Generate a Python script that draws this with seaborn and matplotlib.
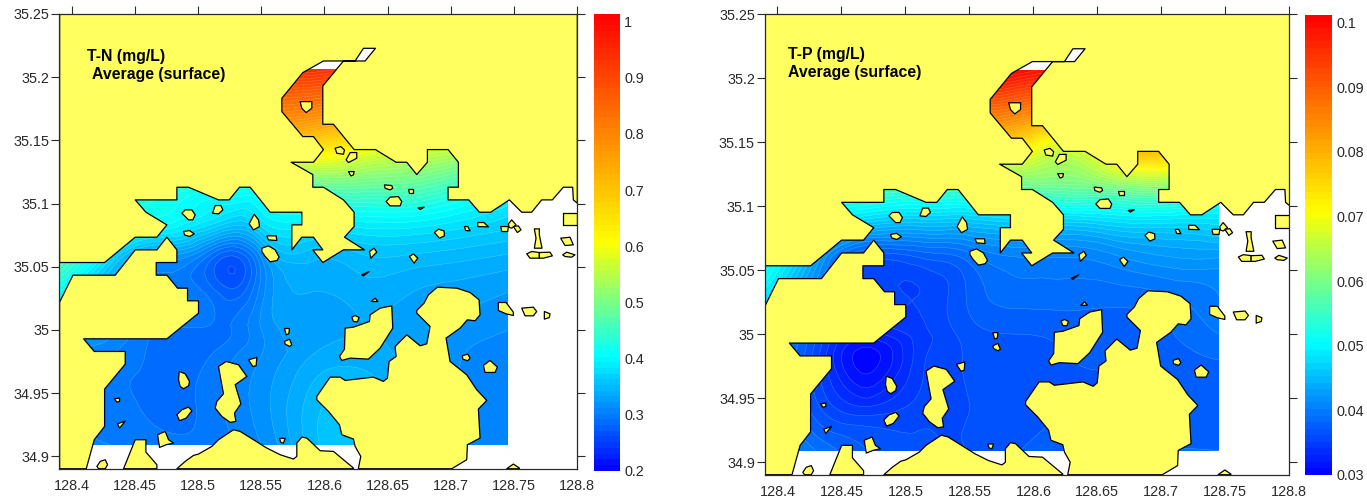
import numpy as np
import matplotlib
matplotlib.use("Agg")
import matplotlib.pyplot as plt
import matplotlib.tri as mtri
from matplotlib.colors import LinearSegmentedColormap
from matplotlib.patches import Polygon
import seaborn as sns

# ---- sampled fields (mg/L) ----
LONS = [128.39, 128.43, 128.47, 128.51, 128.53, 128.55, 128.59, 128.63, 128.67, 128.71, 128.745]
LATS = [34.909, 34.94, 34.98, 35.00, 35.03, 35.06, 35.09, 35.12, 35.15, 35.18, 35.206]

TN = [
    [.300, .300, .295, .295, .302, .310, .345, .358, .330, .310, .300],
    [.300, .295, .287, .295, .305, .315, .345, .352, .330, .310, .305],
    [.310, .300, .287, .290, .300, .310, .330, .335, .325, .310, .305],
    [.330, .315, .290, .288, .292, .310, .325, .330, .325, .315, .310],
    [.400, .330, .300, .285, .274, .305, .330, .335, .330, .325, .320],
    [.470, .380, .325, .290, .274, .315, .345, .350, .350, .345, .340],
    [.470, .440, .410, .385, .370, .385, .395, .400, .400, .385, .370],
    [.500, .500, .460, .450, .450, .460, .500, .500, .490, .460, .430],
    [.700, .700, .700, .700, .700, .700, .680, .630, .600, .580, .560],
    [.830, .830, .830, .830, .830, .830, .820, .790, .750, .700, .650],
    [.940, .940, .940, .940, .940, .940, .930, .900, .850, .800, .750],
]
TP = [
    [.0410, .0390, .0370, .0360, .0360, .0360, .0370, .0380, .0380, .0380, .0380],
    [.0410, .0365, .0345, .0355, .0358, .0360, .0365, .0370, .0370, .0375, .0375],
    [.0410, .0355, .0305, .0345, .0355, .0362, .0368, .0370, .0370, .0375, .0380],
    [.0420, .0365, .0328, .0345, .0355, .0365, .0370, .0372, .0372, .0380, .0390],
    [.0480, .0400, .0360, .0350, .0358, .0372, .0385, .0385, .0385, .0390, .0400],
    [.0520, .0430, .0365, .0370, .0375, .0385, .0400, .0400, .0410, .0420, .0420],
    [.0520, .0500, .0470, .0460, .0460, .0460, .0470, .0470, .0480, .0480, .0480],
    [.0600, .0600, .0580, .0580, .0580, .0580, .0600, .0600, .0630, .0630, .0560],
    [.0730, .0750, .0750, .0750, .0745, .0740, .0740, .0680, .0790, .0790, .0680],
    [.0900, .0900, .0900, .0900, .0900, .0900, .0880, .0850, .0850, .0850, .0800],
    [.1000, .1000, .1000, .1000, .1000, .1000, .0990, .0950, .0900, .0900, .0850],
]
TN_RANGE = (0.2, 1.0, 0.01)
TP_RANGE = (0.03, 0.1, 0.001)
TN_TICKS = [0.2, 0.3, 0.4, 0.5, 0.6, 0.7, 0.8, 0.9, 1.0]
TP_TICKS = [0.03, 0.04, 0.05, 0.06, 0.07, 0.08, 0.09, 0.1]
TN_TITLE = ["T-N (mg/L)", "Average (surface)"]
TP_TITLE = ["T-P (mg/L)", "Average (surface)"]
X_TICKS = [128.4, 128.45, 128.5, 128.55, 128.6, 128.65, 128.7, 128.75, 128.8]
Y_TICKS = [34.9, 34.95, 35.0, 35.05, 35.1, 35.15, 35.2, 35.25]

# ---- coastline, quantised coordinates (see unquantise) ----
MAINLAND = [(178, 42), (1732, 42), (1732, 610), (1720, 600), (1718, 562), (1690, 562), (1657, 600), (1625, 600),
            (1595, 637), (1565, 637), (1528, 600), (1472, 637), (1438, 637), (1406, 600), (1344, 600), (1344, 562),
            (1375, 562), (1375, 487), (1344, 449), (1282, 449), (1282, 487), (1250, 524), (1220, 487), (1188, 487),
            (1126, 449), (1062, 449), (1000, 373), (968, 373), (968, 258), (1030, 183), (1065, 183), (1095, 183),
            (1126, 145), (1090, 145), (1065, 183), (1030, 183), (970, 183), (908, 218), (845, 295), (845, 335),
            (908, 410), (940, 410), (970, 449), (940, 487), (873, 487), (938, 524), (938, 562), (970, 562),
            (1030, 600), (1062, 637), (1062, 680), (1033, 712), (1093, 750), (1030, 750), (968, 788), (938, 750),
            (968, 750), (940, 712), (905, 712), (875, 750), (875, 675), (905, 675), (905, 637), (810, 637),
            (750, 562), (718, 562), (687, 600), (655, 600), (565, 562), (530, 562), (530, 600), (405, 600),
            (437, 637), (500, 675), (470, 712), (405, 712), (313, 788), (178, 788)]
WEST_LAND = [(178, 907), (218, 826), (345, 826), (405, 750), (470, 750), (500, 712), (530, 750), (530, 788),
             (468, 788), (468, 826), (500, 826), (532, 865), (562, 865), (562, 903), (595, 903), (595, 940),
             (500, 1017), (250, 1017), (282, 1055), (375, 1055), (375, 1093), (313, 1168), (313, 1280),
             (282, 1320), (258, 1407), (178, 1407)]
SOUTH_BAR = [(370, 1407), (405, 1320), (437, 1320), (437, 1357), (470, 1395), (470, 1407)]
SOUTH_RIDGE = [(530, 1407), (555, 1385), (580, 1367), (595, 1363), (635, 1340), (655, 1320), (700, 1290),
               (720, 1295), (800, 1345), (840, 1365), (880, 1378), (890, 1370), (890, 1330), (905, 1312),
               (920, 1315), (960, 1353), (1000, 1355), (1060, 1405), (1060, 1407)]
BIG_ISLAND = [(1075, 1405), (1082, 1370), (1065, 1340), (1060, 1318), (1025, 1305), (1018, 1275), (985, 1235),
              (950, 1200), (950, 1190), (990, 1132), (1020, 1132), (1035, 1142), (1120, 1132), (1150, 1145),
              (1162, 1135), (1167, 1085), (1188, 1070), (1185, 1040), (1220, 1005), (1260, 1038), (1280, 1032),
              (1290, 980), (1250, 940), (1250, 932), (1272, 910), (1285, 885), (1312, 862), (1370, 865),
              (1410, 878), (1437, 900), (1440, 945), (1425, 963), (1402, 960), (1380, 985), (1338, 1015),
              (1350, 1085), (1400, 1125), (1430, 1170), (1460, 1202), (1435, 1228), (1440, 1315), (1402, 1335),
              (1400, 1380), (1355, 1407), (1075, 1407)]
MID_ISLAND = [(1035, 985), (1060, 982), (1108, 965), (1110, 945), (1140, 925), (1175, 918), (1178, 985),
              (1140, 1045), (1105, 1078), (1050, 1075), (1025, 1082), (1018, 1070), (1033, 1048)]
LONG_ISLAND = [(655, 1100), (678, 1085), (715, 1095), (740, 1130), (705, 1155), (722, 1212), (703, 1240),
               (707, 1265), (690, 1268), (665, 1250), (645, 1225), (650, 1205), (670, 1182), (663, 1145)]
RECT_ISLAND = [(1688, 638), (1732, 638), (1732, 676), (1688, 676)]
ISLETS = [
    [(535, 1140), (537, 1115), (555, 1122), (568, 1145), (565, 1158), (550, 1167), (540, 1160)],
    [(530, 1245), (545, 1230), (565, 1222), (575, 1233), (558, 1255), (538, 1263)],
    [(342, 1197), (358, 1195), (358, 1205), (350, 1207)],
    [(352, 1272), (375, 1264), (358, 1285)],
    [(472, 1305), (495, 1295), (505, 1320), (520, 1330), (498, 1335), (478, 1343)],
    [(745, 1080), (770, 1073), (768, 1098), (758, 1100)],
    [(853, 986), (868, 986), (866, 1002), (858, 1005)],
    [(853, 1025), (868, 1018), (875, 1035), (868, 1040), (855, 1033)],
    [(838, 1316), (855, 1316), (850, 1330), (842, 1328)],
    [(785, 745), (805, 738), (825, 750), (837, 772), (830, 782), (810, 786), (795, 770), (785, 755)],
    [(545, 640), (555, 630), (575, 630), (585, 645), (578, 660), (565, 660)],
    [(637, 640), (645, 617), (662, 617), (668, 630), (655, 642)],
    [(747, 672), (762, 643), (775, 660), (778, 680), (760, 690)],
    [(550, 695), (568, 692), (582, 702), (568, 710), (553, 705)],
    [(800, 708), (828, 708), (830, 722), (805, 720)],
    [(900, 305), (935, 305), (935, 325), (918, 338), (905, 325)],
    [(1005, 445), (1022, 440), (1033, 450), (1030, 463), (1010, 460)],
    [(1038, 480), (1050, 458), (1070, 458), (1070, 475), (1045, 488)],
    [(1045, 515), (1062, 515), (1060, 525), (1052, 528)],
    [(1153, 555), (1175, 557), (1178, 565), (1170, 570), (1155, 565)],
    [(1223, 566), (1240, 566), (1240, 578), (1227, 578)],
    [(1158, 605), (1170, 592), (1195, 590), (1205, 605), (1200, 618), (1170, 618)],
    [(1254, 624), (1272, 622), (1260, 629)],
    [(1303, 698), (1315, 688), (1332, 693), (1333, 708), (1318, 715)],
    [(1393, 680), (1403, 680), (1410, 693), (1397, 692)],
    [(1433, 668), (1452, 668), (1465, 681), (1433, 680)],
    [(1502, 680), (1525, 680), (1523, 695), (1505, 695)],
    [(1525, 672), (1535, 660), (1548, 675), (1535, 685), (1527, 682)],
    [(1540, 680), (1555, 678), (1563, 690), (1552, 698)],
    [(1603, 687), (1618, 687), (1618, 705), (1626, 745), (1603, 745), (1608, 715)],
    [(1580, 762), (1595, 755), (1618, 758), (1618, 775), (1590, 775)],
    [(1618, 758), (1650, 757), (1657, 768), (1630, 775), (1618, 775)],
    [(1682, 715), (1710, 712), (1720, 735), (1695, 737)],
    [(1688, 765), (1700, 757), (1725, 765), (1715, 772), (1695, 770)],
    [(1108, 755), (1122, 745), (1130, 757), (1112, 775)],
    [(1228, 770), (1240, 762), (1253, 775), (1242, 790)],
    [(1085, 825), (1107, 815), (1090, 828)],
    [(1113, 905), (1125, 895), (1133, 905)],
    [(1055, 952), (1065, 947), (1077, 953), (1072, 966), (1060, 965)],
    [(1495, 908), (1518, 908), (1540, 937), (1540, 947), (1518, 942), (1495, 932)],
    [(1565, 925), (1600, 922), (1610, 935), (1600, 948), (1575, 948)],
    [(1633, 935), (1650, 942), (1648, 953), (1633, 958)],
    [(1387, 1068), (1403, 1063), (1410, 1075), (1403, 1083), (1388, 1078)],
    [(1450, 1097), (1470, 1082), (1492, 1102), (1485, 1118), (1455, 1118)],
    [(1520, 1407), (1540, 1393), (1558, 1405), (1558, 1407)],
    [(290, 1400), (300, 1385), (315, 1380), (322, 1395), (315, 1407), (295, 1407)],
]


def unquantise(points):
    q = np.asarray(points, dtype=float)
    return np.column_stack([128.4 + (q[:, 0] - 215) / 189.5 * 0.05,
                            35.25 - (q[:, 1] - 42) / 189.7 * 0.05])


sns.set_style("white")
plt.rcParams["font.family"] = ["Liberation Sans", "DejaVu Sans"]
W, H = 1367, 500
INK = "#2a2a2a"
fig = plt.figure(figsize=(W / 100, H / 100), dpi=100, facecolor="white")


def px_axes(x0, x1, y0, y1):
    return fig.add_axes([x0 / W, 1 - y1 / H, (x1 - x0) / W, (y1 - y0) / H])


def fmt(v):
    return f"{v:.3f}".rstrip("0").rstrip(".")


def cmap_for(lo, hi, cyan, yellow):
    n = lambda v: (v - lo) / (hi - lo)
    return LinearSegmentedColormap.from_list("wq", [
        (0, "#0000ff"), (n(cyan), "#00ffff"), (n(yellow), "#ffff00"),
        (n((yellow + hi) / 2), "#ff8000"), (1, "#ff0000")], N=256)


def draw_map(rect, field, rng, cyan, yellow, title, title_xy):
    ax = px_axes(*rect)
    lo, hi, step = rng
    levels = np.arange(lo, hi + step / 2, step)
    cmap = cmap_for(lo, hi, cyan, yellow)
    lon, lat = np.meshgrid(LONS, LATS)
    tri = mtri.Triangulation(lon.ravel(), lat.ravel())
    fine, z = mtri.UniformTriRefiner(tri).refine_field(np.asarray(field).ravel(), subdiv=3)
    ax.set_facecolor("white")
    ax.tricontourf(fine, z, levels=levels, cmap=cmap, vmin=lo, vmax=hi, extend="both", zorder=1)
    ax.tricontour(fine, z, levels=levels, colors="white", linewidths=0.3, alpha=0.3, zorder=2)
    for shape in [MAINLAND, WEST_LAND, SOUTH_BAR, SOUTH_RIDGE, BIG_ISLAND, MID_ISLAND, LONG_ISLAND, RECT_ISLAND] + ISLETS:
        ax.add_patch(Polygon(unquantise(shape), closed=True, facecolor="#ffff60",
                             edgecolor="black", linewidth=0.9, joinstyle="round", zorder=3))
    ax.set_xlim(128.39, 128.8)
    ax.set_ylim(34.89, 35.25)
    ax.set_xticks(X_TICKS, [fmt(v) for v in X_TICKS])
    ax.set_yticks(Y_TICKS, [fmt(v) for v in Y_TICKS])
    ax.tick_params(axis="x", which="major", top=True, bottom=False, labeltop=False, labelbottom=True,
                   length=5.8, width=0.8, pad=1.5, labelsize=10.4, color=INK, labelcolor=INK)
    ax.tick_params(axis="y", which="major", left=True, right=True, length=5.8, width=0.8, pad=1.2,
                   labelsize=10.4, color=INK, labelcolor=INK)
    for s in ax.spines.values():
        s.set_visible(True)
        s.set_color(INK)
        s.set_linewidth(0.9)
        s.set_zorder(5)
    for line, (x, y) in zip(title, title_xy):
        fig.text(x / W, 1 - y / H, line, fontsize=11.4, fontweight="bold", color="black", va="center", ha="left")


def draw_bar(rect, rng, ticks, cyan, yellow, label_span):
    ax = px_axes(*rect)
    lo, hi, step = rng
    bands = np.arange(lo, hi - step / 2, step)[::-1] + step / 2
    sns.heatmap(bands.reshape(-1, 1), cmap=cmap_for(lo, hi, cyan, yellow), vmin=lo, vmax=hi, cbar=False,
                ax=ax, xticklabels=False, yticklabels=False)
    ax.yaxis.tick_right()
    nrow = len(bands)
    ax.set_yticks([nrow * (1 - label_span * (t - lo) / (hi - lo)) for t in ticks], [fmt(t) for t in ticks], rotation=0)
    ax.tick_params(axis="y", length=0, pad=3, labelsize=10.4, labelcolor=INK)


draw_map((59.3, 577, 14, 469), TN, TN_RANGE, 0.4, 0.6, TN_TITLE, [(87.5, 56), (92, 74)])
draw_map((764.7, 1289.3, 14, 475), TP, TP_RANGE, 0.05, 0.07, TP_TITLE, [(788, 54), (788, 72)])
draw_bar((594, 620, 14, 470.7), TN_RANGE, TN_TICKS, 0.4, 0.6, 0.983)
draw_bar((1305, 1332, 15, 474.7), TP_RANGE, TP_TICKS, 0.05, 0.07, 0.983)

fig.savefig("out.png", dpi=100, facecolor="white")
